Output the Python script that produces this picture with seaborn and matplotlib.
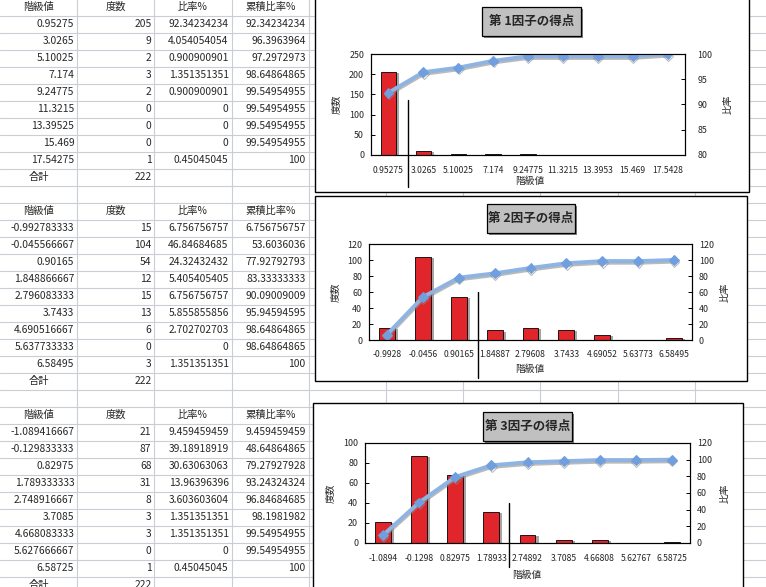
import numpy as np
import matplotlib
matplotlib.use('Agg')
import matplotlib.pyplot as plt
import matplotlib.patheffects as pe
from matplotlib.lines import Line2D
from matplotlib.patches import Rectangle
import seaborn as sns

sns.set_style('white')
plt.rcParams['font.family'] = ['Noto Sans CJK JP', 'DejaVu Sans']

W, H = 766, 587

# 表の見出し
headers = ['階級値', '度数', '比率%', '累積比率%']
total_label = '合計'
totals = [222, 222, 222]

# 第1因子
f1_class = [0.95275, 3.0265, 5.10025, 7.174, 9.24775, 11.3215, 13.39525, 15.469, 17.54275]
f1_count = [205, 9, 2, 3, 2, 0, 0, 0, 1]
f1_ratio = [92.34234234, 4.054054054, 0.900900901, 1.351351351, 0.900900901, 0, 0, 0, 0.45045045]
f1_cum = [92.34234234, 96.3963964, 97.2972973, 98.64864865, 99.54954955, 99.54954955,
          99.54954955, 99.54954955, 100]
f1_ticks = ['0.95275', '3.0265', '5.10025', '7.174', '9.24775', '11.3215', '13.3953', '15.469', '17.5428']

# 第2因子
f2_class = [-0.992783333, -0.045566667, 0.90165, 1.848866667, 2.796083333, 3.7433,
            4.690516667, 5.637733333, 6.58495]
f2_count = [15, 104, 54, 12, 15, 13, 6, 0, 3]
f2_ratio = [6.756756757, 46.84684685, 24.32432432, 5.405405405, 6.756756757, 5.855855856,
            2.702702703, 0, 1.351351351]
f2_cum = [6.756756757, 53.6036036, 77.92792793, 83.33333333, 90.09009009, 95.94594595,
          98.64864865, 98.64864865, 100]
f2_ticks = ['-0.9928', '-0.0456', '0.90165', '1.84887', '2.79608', '3.7433', '4.69052', '5.63773', '6.58495']

# 第3因子
f3_class = [-1.089416667, -0.129833333, 0.82975, 1.789333333, 2.748916667, 3.7085,
            4.668083333, 5.627666667, 6.58725]
f3_count = [21, 87, 68, 31, 8, 3, 3, 0, 1]
f3_ratio = [9.459459459, 39.18918919, 30.63063063, 13.96396396, 3.603603604, 1.351351351,
            1.351351351, 0, 0.45045045]
f3_cum = [9.459459459, 48.64864865, 79.27927928, 93.24324324, 96.84684685, 98.1981982,
          99.54954955, 99.54954955, 100]
f3_ticks = ['-1.0894', '-0.1298', '0.82975', '1.78933', '2.74892', '3.7085', '4.66808', '5.62767', '6.58725']

titles = ['第 1因子の得点', '第 2因子の得点', '第 3因子の得点']

RED = '#e0262b'
BLUE = '#8db4e2'
GRID = '#c9ced6'

fig = plt.figure(figsize=(W / 100, H / 100), dpi=100)
bg = fig.add_axes([0, 0, 1, 1])
bg.set_xlim(0, W)
bg.set_ylim(H, 0)
bg.axis('off')

# シートの罫線
col_w = 77.2
row_h = 17.0
for k in range(1, 11):
    bg.axvline(col_w * k, color=GRID, lw=0.8, zorder=0)
for k in range(0, 35):
    bg.axhline(15.8 + row_h * k, color=GRID, lw=0.8, zorder=0)


def fmt(v):
    return '{:.10g}'.format(v)


def row_y(i):
    return 7.3 + row_h * i


tables = [(f1_class, f1_count, f1_ratio, f1_cum),
          (f2_class, f2_count, f2_ratio, f2_cum),
          (f3_class, f3_count, f3_ratio, f3_cum)]
TFS = 7.4
for b, (cls, cnt, rat, cum) in enumerate(tables):
    r0 = 12 * b
    for c, h in enumerate(headers):
        bg.text(col_w * (c + 0.5), row_y(r0), h, ha='center', va='center', fontsize=TFS)
    for j in range(len(cls)):
        vals = [cls[j], cnt[j], rat[j], cum[j]]
        for c, v in enumerate(vals):
            bg.text(col_w * (c + 1) - 3, row_y(r0 + 1 + j), fmt(v), ha='right', va='center', fontsize=TFS)
    bg.text(col_w * 0.5, row_y(r0 + 10), total_label, ha='center', va='center', fontsize=TFS)
    bg.text(col_w * 2 - 3, row_y(r0 + 10), str(totals[b]), ha='right', va='center', fontsize=TFS)

# グラフの枠
boxes = [(315, -2, 749, 192), (315, 196, 747, 381), (313, 403, 743, 592)]
for l, t, r, bt in boxes:
    bg.add_patch(Rectangle((l, t), r - l, bt - t, facecolor='white', edgecolor='black', lw=1.0, zorder=2))

# タイトルの箱
tboxes = [(482, 7, 581, 36), (487, 204, 575, 233), (483, 412, 572, 441)]
for (l, t, r, bt), ttl in zip(tboxes, titles):
    bg.add_patch(Rectangle((l + 2, t + 2), r - l, bt - t, facecolor='#7f7f7f', edgecolor='none', zorder=3))
    bg.add_patch(Rectangle((l, t), r - l, bt - t, facecolor='#c0c0c0', edgecolor='black', lw=0.9, zorder=4))
    bg.text((l + r) / 2, (t + bt) / 2, ttl, ha='center', va='center', fontsize=9, fontweight='bold', zorder=5)


def rect(l, t, r, b):
    return [l / W, 1 - b / H, (r - l) / W, (b - t) / H]


charts = [
    dict(area=(371, 54, 685, 155), ticks=f1_ticks, cnt=f1_count, cum=f1_cum,
         yl=(0, 250), yt=np.arange(0, 251, 50), yr=(80, 100), ytr=np.arange(80, 101, 5),
         xlab=(0.506, -0.257), ylab=-0.111, rlab=1.137, xpad=8, rpad=9),
    dict(area=(369, 244, 692, 340), ticks=f2_ticks, cnt=f2_count, cum=f2_cum,
         yl=(0, 120), yt=np.arange(0, 121, 20), yr=(0, 120), ytr=np.arange(0, 121, 20),
         xlab=(0.498, -0.302), ylab=-0.105, rlab=1.102, xpad=7, rpad=5),
    dict(area=(365, 443, 690, 543), ticks=f3_ticks, cnt=f3_count, cum=f3_cum,
         yl=(0, 100), yt=np.arange(0, 101, 20), yr=(0, 120), ytr=np.arange(0, 121, 20),
         xlab=(0.498, -0.32), ylab=-0.108, rlab=1.108, xpad=8, rpad=5),
]

for ch in charts:
    ax = fig.add_axes(rect(*ch['area']))
    ax.set_zorder(3)
    n = len(ch['cnt'])
    sns.barplot(x=ch['ticks'], y=ch['cnt'], ax=ax, color=RED, saturation=1, width=0.44,
                edgecolor='black', linewidth=0.6)
    for p in ax.patches:
        p.set_path_effects([pe.SimplePatchShadow(offset=(2.2, -0.8), shadow_rgbFace='#a6a6a6', alpha=1),
                            pe.Normal()])
    ax.set_ylim(*ch['yl'])
    ax.set_yticks(ch['yt'])
    ax.set_xlim(-0.5, n - 0.5)

    ax2 = ax.twinx()
    sns.lineplot(x=np.arange(n), y=ch['cum'], ax=ax2, color=BLUE, lw=2.8, marker='D',
                 markersize=5, markerfacecolor='#6f9fdf', markeredgecolor='#6f9fdf',
                 path_effects=[pe.SimpleLineShadow(offset=(0.3, -1.2), shadow_color='#8c8c8c', alpha=0.6),
                               pe.Normal()])
    ax2.set_ylim(*ch['yr'])
    ax2.set_yticks(ch['ytr'])
    ax2.grid(False)
    ax.grid(False)

    ax.set_xticks(np.arange(n))
    ax.set_xticklabels(ch['ticks'])
    ax.set_xticks(np.arange(-0.5, n), minor=True)
    ax.tick_params(axis='x', which='major', length=0, pad=ch['xpad'], labelsize=6.2)
    ax.tick_params(axis='x', which='minor', direction='in', length=3, width=0.7, color='black')
    ax.tick_params(axis='y', direction='in', length=3, width=0.7, color='black', pad=5, labelsize=6.4, left=True)
    ax2.tick_params(axis='y', direction='in', length=3, width=0.7, color='black', pad=ch['rpad'],
                    labelsize=6.4, right=True)

    for a in (ax, ax2):
        for s in a.spines.values():
            s.set_color('black')
            s.set_linewidth(0.8)

    ax.set_xlabel('階級値', fontsize=7)
    ax.xaxis.set_label_coords(*ch['xlab'])
    ax.xaxis.label.set_va('center')
    ax.set_ylabel('度数', fontsize=7)
    ax.yaxis.set_label_coords(ch['ylab'], 0.5)
    ax.yaxis.label.set_va('center')
    ax2.set_ylabel('比率', fontsize=7, rotation=90)
    ax2.yaxis.set_label_coords(ch['rlab'], 0.5)
    ax2.yaxis.label.set_va('center')
    ax2.set_xlabel('')

# 画面上の縦線
for x, y0, y1 in [(408, 100, 187), (478, 292, 378), (509, 503, 567)]:
    fig.add_artist(Line2D([x / W, x / W], [1 - y0 / H, 1 - y1 / H], color='black', lw=1.0,
                          transform=fig.transFigure, zorder=10))

fig.savefig('out.png', dpi=100)
